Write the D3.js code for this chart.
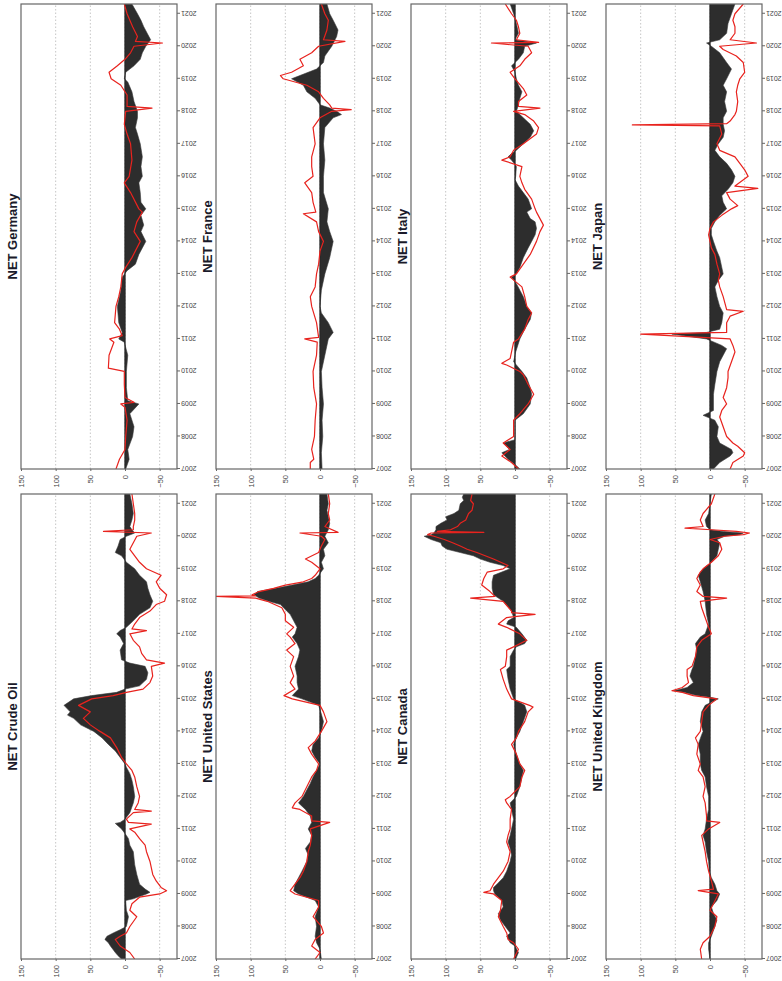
<!DOCTYPE html>
<html><head><meta charset="utf-8">
<script src="https://cdn.jsdelivr.net/npm/d3@7/dist/d3.min.js"></script>
<style>body{margin:0;background:#fff}svg{display:block}</style>
</head><body><svg id="c" width="782" height="981"></svg>
<script>
// ---------- data: [year, value] ----------
const years = d3.range(2007, 2022);
const valueTicks = [150, 100, 50, 0, -50];
const panelTitles = ["NET Crude Oil","NET United States","NET Canada","NET United Kingdom",
                     "NET Germany","NET France","NET Italy","NET Japan"];

const crudeArea = [[2007,5],[2007.1,10],[2007.2,14],[2007.4,21],[2007.5,24],[2007.6,29],[2007.7,26],[2007.8,17],[2007.9,7],[2008,-2],[2008.3,-5],[2008.5,-2],[2008.8,-1],[2008.85,-12],[2009,-31],[2009.05,-36],[2009.15,-29],[2009.3,-21],[2009.6,-17],[2009.9,-14],[2010.3,-12],[2010.5,-7],[2010.7,-5],[2010.8,-2],[2011,5],[2011.17,14],[2011.2,7],[2011.3,0],[2011.5,-7],[2011.8,-12],[2012,-14],[2012.3,-12],[2012.5,-10],[2012.7,-7],[2012.9,-2],[2013,0],[2013.2,7],[2013.4,14],[2013.6,24],[2013.8,33],[2014,45],[2014.2,64],[2014.4,74],[2014.5,83],[2014.6,79],[2014.8,88],[2015,74],[2015.1,48],[2015.2,12],[2015.3,0],[2015.4,-21],[2015.6,-31],[2015.8,-33],[2016,-29],[2016.1,-7],[2016.2,5],[2016.5,7],[2016.7,2],[2016.9,7],[2017,12],[2017.1,7],[2017.2,-2],[2017.4,-12],[2017.6,-21],[2017.8,-36],[2018,-40],[2018.2,-36],[2018.4,-33],[2018.6,-31],[2018.8,-21],[2019,-14],[2019.2,-2],[2019.4,5],[2019.5,14],[2019.7,10],[2019.9,7],[2020,-2],[2020.1,-14],[2020.2,-10],[2020.3,-7],[2020.5,-10],[2020.7,-12],[2021,-10],[2021.3,-7]];
const crudeLine = [[2007,-14],[2007.2,-7],[2007.4,7],[2007.6,14],[2007.7,7],[2007.8,-2],[2008,-7],[2008.3,-17],[2008.5,-7],[2008.7,-10],[2008.9,-21],[2009,-50],[2009.1,-60],[2009.2,-52],[2009.4,-45],[2009.6,-40],[2010,-36],[2010.3,-31],[2010.5,-29],[2010.7,-21],[2010.9,-14],[2011,-7],[2011.15,-38],[2011.2,-5],[2011.3,-2],[2011.5,-12],[2011.55,-38],[2011.6,-14],[2011.8,-19],[2012,-21],[2012.3,-17],[2012.6,-14],[2012.8,-10],[2013,-2],[2013.2,5],[2013.5,12],[2013.8,21],[2014,36],[2014.2,50],[2014.4,60],[2014.6,50],[2014.8,67],[2015,48],[2015.1,17],[2015.2,-2],[2015.3,-26],[2015.5,-36],[2015.7,-40],[2016,-38],[2016.1,-57],[2016.2,-31],[2016.4,-24],[2016.6,-21],[2016.8,-12],[2017,-7],[2017.1,-31],[2017.15,-10],[2017.3,-14],[2017.5,-21],[2017.7,-36],[2017.9,-45],[2018,-57],[2018.2,-60],[2018.4,-50],[2018.6,-45],[2018.8,-52],[2019,-31],[2019.2,-21],[2019.4,-14],[2019.6,-7],[2019.8,-12],[2020,-17],[2020.1,-38],[2020.15,31],[2020.2,-12],[2020.3,-12],[2020.5,-14],[2020.7,-14],[2021,-12],[2021.3,-10]];

const usArea = [[2007,-2],[2007.3,0],[2007.5,5],[2007.7,7],[2008,5],[2008.3,7],[2008.6,2],[2008.8,7],[2009,31],[2009.1,38],[2009.3,36],[2009.5,31],[2009.7,26],[2010,19],[2010.2,17],[2010.4,21],[2010.6,14],[2010.8,12],[2011,17],[2011.2,12],[2011.4,14],[2011.6,21],[2011.8,31],[2012,24],[2012.2,19],[2012.4,14],[2012.6,10],[2012.8,5],[2013,0],[2013.2,7],[2013.4,12],[2013.6,10],[2013.8,2],[2014,-2],[2014.3,-5],[2014.6,-1],[2014.8,2],[2015,26],[2015.1,40],[2015.3,31],[2015.5,33],[2015.7,33],[2016,36],[2016.3,31],[2016.5,29],[2016.7,33],[2016.9,40],[2017,36],[2017.2,33],[2017.4,38],[2017.6,43],[2017.7,48],[2017.9,57],[2018,74],[2018.1,88],[2018.2,95],[2018.3,90],[2018.4,64],[2018.5,40],[2018.6,17],[2018.7,7],[2018.8,2],[2019,-5],[2019.2,-2],[2019.4,-7],[2019.6,-5],[2019.8,-12],[2020,-7],[2020.2,-12],[2020.4,-14],[2020.6,-12],[2020.8,-10],[2021,-12],[2021.3,-10]];
const usLine = [[2007,7],[2007.2,0],[2007.4,12],[2007.6,7],[2007.8,-5],[2008,-2],[2008.3,10],[2008.6,2],[2008.8,2],[2009,36],[2009.1,43],[2009.3,36],[2009.5,29],[2009.7,24],[2010,19],[2010.3,17],[2010.5,14],[2010.8,12],[2011,14],[2011.2,-14],[2011.25,12],[2011.4,12],[2011.6,29],[2011.65,40],[2011.8,36],[2012,26],[2012.3,19],[2012.6,12],[2012.8,5],[2013,2],[2013.3,12],[2013.5,17],[2013.7,7],[2014,-2],[2014.3,-10],[2014.6,-5],[2014.8,0],[2015,40],[2015.1,52],[2015.3,36],[2015.5,43],[2015.7,38],[2016,43],[2016.3,38],[2016.5,48],[2016.7,36],[2016.9,43],[2017,48],[2017.2,38],[2017.4,50],[2017.6,50],[2017.8,55],[2018,76],[2018.1,93],[2018.15,150],[2018.17,93],[2018.2,98],[2018.3,88],[2018.4,67],[2018.5,50],[2018.6,24],[2018.7,12],[2018.8,7],[2019,0],[2019.2,12],[2019.3,21],[2019.5,2],[2019.7,-2],[2019.9,-7],[2020,-2],[2020.1,29],[2020.12,-26],[2020.3,-7],[2020.5,-14],[2020.7,-12],[2021,-14],[2021.3,-12]];

const canadaArea = [[2007,-1],[2007.2,-5],[2007.4,0],[2007.5,7],[2007.7,12],[2007.8,7],[2008,14],[2008.2,21],[2008.4,24],[2008.6,17],[2008.8,19],[2009,29],[2009.1,31],[2009.2,31],[2009.3,26],[2009.5,17],[2009.7,12],[2010,7],[2010.2,5],[2010.4,7],[2010.6,10],[2010.8,7],[2011,5],[2011.3,2],[2011.6,5],[2011.8,7],[2012,-2],[2012.3,-7],[2012.6,-10],[2012.8,-12],[2013,-7],[2013.3,-2],[2013.6,2],[2013.8,-2],[2014,-7],[2014.3,-12],[2014.6,-17],[2014.8,-14],[2015,2],[2015.3,7],[2015.6,10],[2015.9,12],[2016,7],[2016.3,7],[2016.5,2],[2016.6,-2],[2016.7,-14],[2016.8,-17],[2017,-10],[2017.2,-2],[2017.3,12],[2017.4,10],[2017.5,2],[2017.7,5],[2018,17],[2018.2,31],[2018.4,33],[2018.6,33],[2018.8,31],[2019,7],[2019.1,17],[2019.2,36],[2019.3,50],[2019.4,60],[2019.5,79],[2019.6,98],[2019.7,105],[2019.8,107],[2019.9,121],[2020,131],[2020.05,121],[2020.1,117],[2020.2,114],[2020.3,114],[2020.4,107],[2020.5,98],[2020.6,100],[2020.7,88],[2020.8,81],[2021,79],[2021.1,74],[2021.2,76],[2021.3,74]];
const canadaLine = [[2007,2],[2007.3,-5],[2007.5,2],[2007.6,10],[2007.8,12],[2008,17],[2008.3,24],[2008.5,21],[2008.8,19],[2009,31],[2009.05,45],[2009.1,36],[2009.3,31],[2009.5,24],[2009.7,17],[2010,10],[2010.3,7],[2010.6,12],[2010.8,10],[2011,7],[2011.3,7],[2011.6,5],[2011.8,12],[2011.9,14],[2012,7],[2012.3,-7],[2012.6,-10],[2012.8,-14],[2013,-7],[2013.3,-2],[2013.6,5],[2013.8,-2],[2014,-5],[2014.3,-14],[2014.6,-19],[2014.75,-26],[2014.8,-21],[2015,5],[2015.3,12],[2015.6,17],[2015.9,21],[2016,14],[2016.3,12],[2016.5,12],[2016.6,2],[2016.8,-17],[2017,-7],[2017.2,12],[2017.3,24],[2017.5,12],[2017.6,-29],[2017.65,5],[2017.7,5],[2018,17],[2018.1,64],[2018.15,29],[2018.3,36],[2018.5,48],[2018.7,45],[2018.9,40],[2019,17],[2019.1,10],[2019.3,31],[2019.5,55],[2019.6,69],[2019.7,79],[2019.8,90],[2019.9,102],[2020,117],[2020.05,126],[2020.1,121],[2020.12,45],[2020.15,112],[2020.2,93],[2020.3,83],[2020.4,79],[2020.5,71],[2020.6,69],[2020.7,67],[2020.8,62],[2021,60],[2021.1,64],[2021.3,62]];

const ukArea = [[2007,0],[2007.3,2],[2007.5,2],[2007.7,-2],[2008,-7],[2008.2,-10],[2008.4,-5],[2008.6,-2],[2008.8,-10],[2009,-14],[2009.1,-10],[2009.3,-7],[2009.5,-2],[2009.7,1],[2010,2],[2010.3,5],[2010.6,7],[2010.8,10],[2011,7],[2011.3,5],[2011.6,2],[2012,2],[2012.3,5],[2012.6,7],[2012.8,12],[2013,14],[2013.3,14],[2013.6,17],[2013.9,12],[2014,10],[2014.3,14],[2014.6,12],[2014.8,7],[2015,-12],[2015.05,0],[2015.1,19],[2015.2,38],[2015.25,52],[2015.35,33],[2015.5,24],[2015.7,29],[2015.9,26],[2016,24],[2016.3,21],[2016.5,19],[2016.7,21],[2016.9,14],[2017,7],[2017.3,2],[2017.6,5],[2018,7],[2018.3,10],[2018.6,14],[2018.8,17],[2019,10],[2019.2,-2],[2019.4,-10],[2019.6,-12],[2019.8,-14],[2019.9,-10],[2020,-21],[2020.05,-43],[2020.1,-48],[2020.15,-19],[2020.2,0],[2020.3,5],[2020.5,7],[2020.7,2],[2021,0],[2021.3,-2]];
const ukLine = [[2007,12],[2007.3,14],[2007.5,10],[2007.7,0],[2008,-7],[2008.3,-10],[2008.5,0],[2008.7,-5],[2009,-12],[2009.1,17],[2009.15,-5],[2009.4,-2],[2009.7,2],[2010,5],[2010.3,7],[2010.6,10],[2010.8,12],[2011,2],[2011.2,-14],[2011.25,5],[2011.4,5],[2011.8,7],[2012,10],[2012.3,7],[2012.6,10],[2012.8,17],[2013,14],[2013.3,19],[2013.6,17],[2013.8,21],[2014,14],[2014.3,12],[2014.6,10],[2014.8,2],[2015,-10],[2015.1,24],[2015.2,40],[2015.25,55],[2015.35,40],[2015.5,31],[2015.7,33],[2015.9,33],[2016,26],[2016.3,21],[2016.6,19],[2016.8,12],[2017,-2],[2017.2,2],[2017.5,7],[2017.8,12],[2018,14],[2018.1,-24],[2018.15,10],[2018.3,19],[2018.5,14],[2018.7,19],[2018.9,14],[2019,10],[2019.2,-2],[2019.4,-12],[2019.6,-17],[2019.8,-14],[2019.9,0],[2020,-21],[2020.05,-48],[2020.1,-57],[2020.15,-38],[2020.2,-2],[2020.25,36],[2020.3,10],[2020.5,14],[2020.7,10],[2020.9,2],[2021,-2],[2021.3,-7]];

const germanyArea = [[2007,-1],[2007.3,-6],[2007.6,-4],[2008,-11],[2008.3,-13],[2008.7,-7],[2009,-20],[2009.1,-4],[2009.5,-2],[2010,-2],[2010.5,-4],[2010.9,1],[2011,9],[2011.2,4],[2011.5,9],[2012,11],[2012.5,6],[2012.9,4],[2013.1,-3],[2013.3,-15],[2013.6,-20],[2014,-30],[2014.3,-23],[2014.5,-27],[2014.8,-23],[2015,-30],[2015.2,-23],[2015.5,-22],[2015.8,-20],[2016,-25],[2016.3,-23],[2016.6,-25],[2017,-22],[2017.3,-18],[2017.5,-15],[2017.8,-18],[2018,-18],[2018.3,-13],[2018.6,-10],[2018.9,-4],[2019,1],[2019.2,-1],[2019.4,-13],[2019.6,-22],[2019.8,-25],[2020,-30],[2020.2,-37],[2020.4,-32],[2020.6,-27],[2020.8,-23],[2021,-18],[2021.3,-10]];
const germanyLine = [[2007,13],[2007.3,8],[2007.6,0],[2008,-1],[2008.5,-3],[2008.9,0],[2009,6],[2009.05,-13],[2009.2,0],[2009.6,1],[2010,1],[2010.1,24],[2010.5,23],[2010.9,16],[2011,22],[2011.1,4],[2011.3,8],[2011.5,15],[2012,13],[2012.3,9],[2012.6,6],[2013,4],[2013.2,-1],[2013.5,-10],[2014,-22],[2014.3,-13],[2014.6,-17],[2014.9,-25],[2015,-20],[2015.5,-8],[2015.8,1],[2016,-6],[2016.5,-10],[2017,-8],[2017.3,-3],[2017.6,1],[2018,-1],[2018.1,-39],[2018.15,-3],[2018.5,-3],[2018.8,6],[2019,20],[2019.2,23],[2019.4,11],[2019.6,0],[2019.8,-8],[2020,-13],[2020.1,-54],[2020.15,-15],[2020.3,-18],[2020.6,-11],[2021,-3],[2021.3,1]];

const franceArea = [[2007,-3],[2007.5,-2],[2008,-4],[2008.5,-3],[2009,-5],[2009.5,-3],[2010,-2],[2010.5,-7],[2011,-12],[2011.2,-19],[2011.5,-12],[2011.8,-2],[2012,0],[2012.5,-2],[2013,-7],[2013.5,-14],[2014,-19],[2014.3,-14],[2014.6,-10],[2015,-12],[2015.5,-5],[2016,-5],[2016.5,-7],[2017,-5],[2017.5,-7],[2017.8,-19],[2017.9,-31],[2018,-24],[2018.1,-14],[2018.2,0],[2018.4,7],[2018.6,19],[2018.8,24],[2019,41],[2019.1,29],[2019.3,5],[2019.5,-5],[2019.7,-7],[2020,-17],[2020.3,-24],[2020.5,-26],[2020.8,-19],[2021,-14],[2021.3,-10]];
const franceLine = [[2007,14],[2007.2,14],[2007.3,9],[2007.6,12],[2008,8],[2008.5,7],[2009,5],[2009.5,9],[2010,10],[2010.5,5],[2010.9,4],[2011,22],[2011.05,2],[2011.5,5],[2012,12],[2012.3,14],[2012.6,7],[2013,5],[2013.3,2],[2013.7,0],[2014,-5],[2014.3,2],[2014.6,5],[2014.85,24],[2014.9,6],[2015.2,10],[2015.5,12],[2015.8,22],[2016,10],[2016.3,12],[2016.6,12],[2017,7],[2017.5,10],[2017.8,0],[2018,-17],[2018.05,-45],[2018.1,-17],[2018.2,-14],[2018.4,-5],[2018.6,2],[2018.8,19],[2019,53],[2019.1,57],[2019.2,41],[2019.4,24],[2019.6,29],[2019.8,12],[2020,2],[2020.15,-36],[2020.2,-5],[2020.5,-10],[2020.8,-12],[2021,-7],[2021.3,-2]];

const italyArea = [[2007,-7],[2007.1,-2],[2007.3,10],[2007.5,19],[2007.6,8],[2007.8,17],[2007.9,0],[2008.5,0],[2008.7,-12],[2009,-22],[2009.3,-24],[2009.5,-22],[2009.8,-17],[2010,-10],[2010.2,-2],[2010.3,2],[2010.6,-1],[2011,-7],[2011.3,-14],[2011.6,-22],[2011.8,-24],[2012,-17],[2012.3,-12],[2012.5,-7],[2012.7,-2],[2012.9,5],[2013,-2],[2013.2,-7],[2013.5,-12],[2013.8,-19],[2014,-24],[2014.2,-29],[2014.4,-31],[2014.6,-29],[2014.7,-22],[2014.9,-17],[2015,-24],[2015.3,-19],[2015.5,-12],[2015.7,-5],[2015.9,0],[2016,-1],[2016.3,-2],[2016.5,5],[2016.6,10],[2016.7,5],[2016.8,-2],[2017,-12],[2017.2,-22],[2017.4,-27],[2017.6,-22],[2017.8,-12],[2018,-2],[2018.2,-5],[2018.4,-7],[2018.6,-10],[2018.8,-5],[2019,-2],[2019.2,0],[2019.4,5],[2019.6,-5],[2019.8,-12],[2020,-14],[2020.1,-31],[2020.2,0],[2020.4,-5],[2020.7,-2],[2021,2],[2021.3,7]];
const italyLine = [[2007,-5],[2007.2,5],[2007.4,19],[2007.6,7],[2007.8,17],[2008,2],[2008.5,2],[2008.7,-7],[2009,-19],[2009.3,-27],[2009.6,-19],[2009.9,-12],[2010,-7],[2010.2,12],[2010.25,19],[2010.4,7],[2010.6,5],[2010.9,2],[2011,-5],[2011.3,-14],[2011.6,-19],[2011.8,-24],[2012,-17],[2012.3,-14],[2012.6,-10],[2012.9,7],[2013,-2],[2013.3,-12],[2013.6,-22],[2014,-31],[2014.3,-36],[2014.5,-41],[2014.7,-36],[2014.9,-31],[2015,-29],[2015.3,-24],[2015.6,-14],[2015.8,-10],[2016,-7],[2016.3,-10],[2016.5,19],[2016.6,7],[2016.8,2],[2017,-12],[2017.3,-31],[2017.5,-34],[2017.7,-27],[2017.9,-14],[2018,2],[2018.1,-36],[2018.15,-5],[2018.3,-5],[2018.5,-17],[2018.7,-12],[2019,0],[2019.2,7],[2019.4,-7],[2019.6,-14],[2019.8,-24],[2020,-19],[2020.1,34],[2020.12,-34],[2020.2,-2],[2020.4,-7],[2020.6,-5],[2020.8,-2],[2021,5],[2021.3,14]];

const japanArea = [[2007,-5],[2007.2,-14],[2007.4,-29],[2007.5,-33],[2007.6,-31],[2007.8,-14],[2008,-10],[2008.3,-12],[2008.5,-7],[2008.65,10],[2008.8,-5],[2009,-5],[2009.3,-5],[2009.6,-7],[2010,-10],[2010.3,-14],[2010.5,-19],[2010.7,-24],[2010.8,-17],[2011,5],[2011.15,55],[2011.2,5],[2011.3,-14],[2011.5,-17],[2011.8,-19],[2012,-14],[2012.3,-10],[2012.6,-7],[2012.8,-12],[2013,-19],[2013.2,-17],[2013.5,-14],[2013.7,-10],[2014,-5],[2014.2,-2],[2014.4,-2],[2014.6,-7],[2014.8,-14],[2015,-24],[2015.2,-19],[2015.4,-17],[2015.6,-26],[2015.8,-33],[2016,-36],[2016.2,-31],[2016.4,-24],[2016.6,-14],[2016.8,-7],[2017,-12],[2017.2,-19],[2017.4,-21],[2017.6,-19],[2017.8,-19],[2018,-24],[2018.3,-21],[2018.6,-24],[2018.8,-19],[2019,-24],[2019.3,-31],[2019.5,-24],[2019.8,-14],[2020,-2],[2020.1,5],[2020.2,-14],[2020.4,-24],[2020.7,-26],[2021,-31],[2021.3,-36]];
const japanLine = [[2007,-29],[2007.2,-33],[2007.4,-48],[2007.5,-50],[2007.7,-40],[2007.8,-33],[2008,-24],[2008.3,-19],[2008.6,-14],[2008.8,-17],[2009,-24],[2009.2,-19],[2009.5,-24],[2009.8,-26],[2010,-26],[2010.3,-31],[2010.6,-36],[2010.8,-33],[2011,-29],[2011.15,100],[2011.2,-24],[2011.5,-24],[2011.7,-29],[2011.85,-48],[2011.9,-24],[2012.3,-19],[2012.6,-14],[2012.8,-12],[2013,-14],[2013.3,-10],[2013.6,-7],[2013.8,-2],[2014,0],[2014.2,2],[2014.4,0],[2014.6,-5],[2014.8,-17],[2015,-31],[2015.1,-40],[2015.3,-29],[2015.5,-24],[2015.63,-69],[2015.7,-36],[2016,-55],[2016.2,-50],[2016.4,-43],[2016.6,-36],[2016.8,-14],[2017,-10],[2017.3,-17],[2017.55,-14],[2017.58,112],[2017.62,-24],[2017.7,-29],[2017.9,-36],[2018,-38],[2018.3,-40],[2018.6,-38],[2018.8,-40],[2019,-43],[2019.2,-50],[2019.5,-48],[2019.7,-38],[2019.9,-19],[2020,-14],[2020.1,-67],[2020.2,-29],[2020.4,-36],[2020.6,-36],[2020.8,-33],[2021,-36],[2021.3,-48]];

const areaSeries = [crudeArea, usArea, canadaArea, ukArea, germanyArea, franceArea, italyArea, japanArea];
const lineSeries = [crudeLine, usLine, canadaLine, ukLine, germanyLine, franceLine, italyLine, japanLine];

// ---------- drawing ----------
const W = 782, H = 981;
const svg = d3.select("#c");
svg.append("rect").attr("width", W).attr("height", H).attr("fill", "#fff");
// chart is laid out in its natural orientation, then turned a quarter turn
const g = svg.append("g").attr("transform", `translate(0,${H}) rotate(-90)`);

const colX = [22, 512], colW = 465;
const rowY = [21, 216, 411, 606], rowH = 156;
const font = "'Liberation Sans', Arial, sans-serif";

panelTitles.forEach((title, i) => {
  const col = Math.floor(i / 4), row = i % 4;
  const x0 = colX[col], y0 = rowY[row];
  const x = d3.scaleLinear().domain([2007, 2021.3]).range([x0, x0 + colW]);
  const y = d3.scaleLinear().domain([150, -75]).range([y0, y0 + rowH]);
  const p = g.append("g");

  const cid = "clip" + i;
  p.append("clipPath").attr("id", cid).append("rect")
    .attr("x", x0).attr("y", y0).attr("width", colW).attr("height", rowH);

  // grid
  p.append("g").selectAll("line").data([100, 50, 0, -50]).join("line")
    .attr("x1", x0).attr("x2", x0 + colW)
    .attr("y1", d => y(d)).attr("y2", d => y(d))
    .attr("stroke", "#b8b8b8").attr("stroke-width", 0.8)
    .attr("stroke-dasharray", "1.5,2");

  const plot = p.append("g").attr("clip-path", `url(#${cid})`);
  plot.append("path").datum(areaSeries[i])
    .attr("d", d3.area().x(d => x(d[0])).y0(y(0)).y1(d => y(d[1])))
    .attr("fill", "#2d2d2d").attr("stroke", "#3a3a3a").attr("stroke-width", 0.6);
  plot.append("line").attr("x1", x0).attr("x2", x0 + colW)
    .attr("y1", y(0)).attr("y2", y(0)).attr("stroke", "#222").attr("stroke-width", 1);
  plot.append("path").datum(lineSeries[i])
    .attr("d", d3.line().x(d => x(d[0])).y(d => y(d[1])))
    .attr("fill", "none").attr("stroke", "#e8231e").attr("stroke-width", 1.2)
    .attr("stroke-linejoin", "round");

  // frame
  p.append("rect").attr("x", x0).attr("y", y0).attr("width", colW).attr("height", rowH)
    .attr("fill", "none").attr("stroke", "#666").attr("stroke-width", 1.2);

  // year axis
  const xa = p.append("g").attr("transform", `translate(0,${y0 + rowH})`)
    .call(d3.axisBottom(x).tickValues(years).tickFormat(d3.format("d")).tickSize(3).tickPadding(2));
  xa.select(".domain").remove();
  xa.selectAll(".tick line").attr("stroke", "#666");
  xa.selectAll(".tick text")
    .attr("font-family", font).attr("font-size", 7).attr("fill", "#444")
    .attr("text-anchor", "end").attr("dy", "0.35em")
    .attr("transform", "translate(0,4) rotate(-90)").attr("x", 0).attr("y", 0);

  // value axis
  const ya = p.append("g").attr("transform", `translate(${x0},0)`)
    .call(d3.axisLeft(y).tickValues(valueTicks).tickSize(2).tickPadding(4));
  ya.select(".domain").remove();
  ya.selectAll(".tick line").attr("stroke", "#666");
  ya.selectAll(".tick text").attr("font-family", font).attr("font-size", 7.5).attr("fill", "#444");

  // title
  p.append("text").attr("x", x0 + colW / 2).attr("y", y0 - 4)
    .attr("text-anchor", "middle").attr("font-family", font)
    .attr("font-weight", "bold").attr("font-size", 13).attr("fill", "#1a1a2a")
    .text(title);
});
</script></body></html>
